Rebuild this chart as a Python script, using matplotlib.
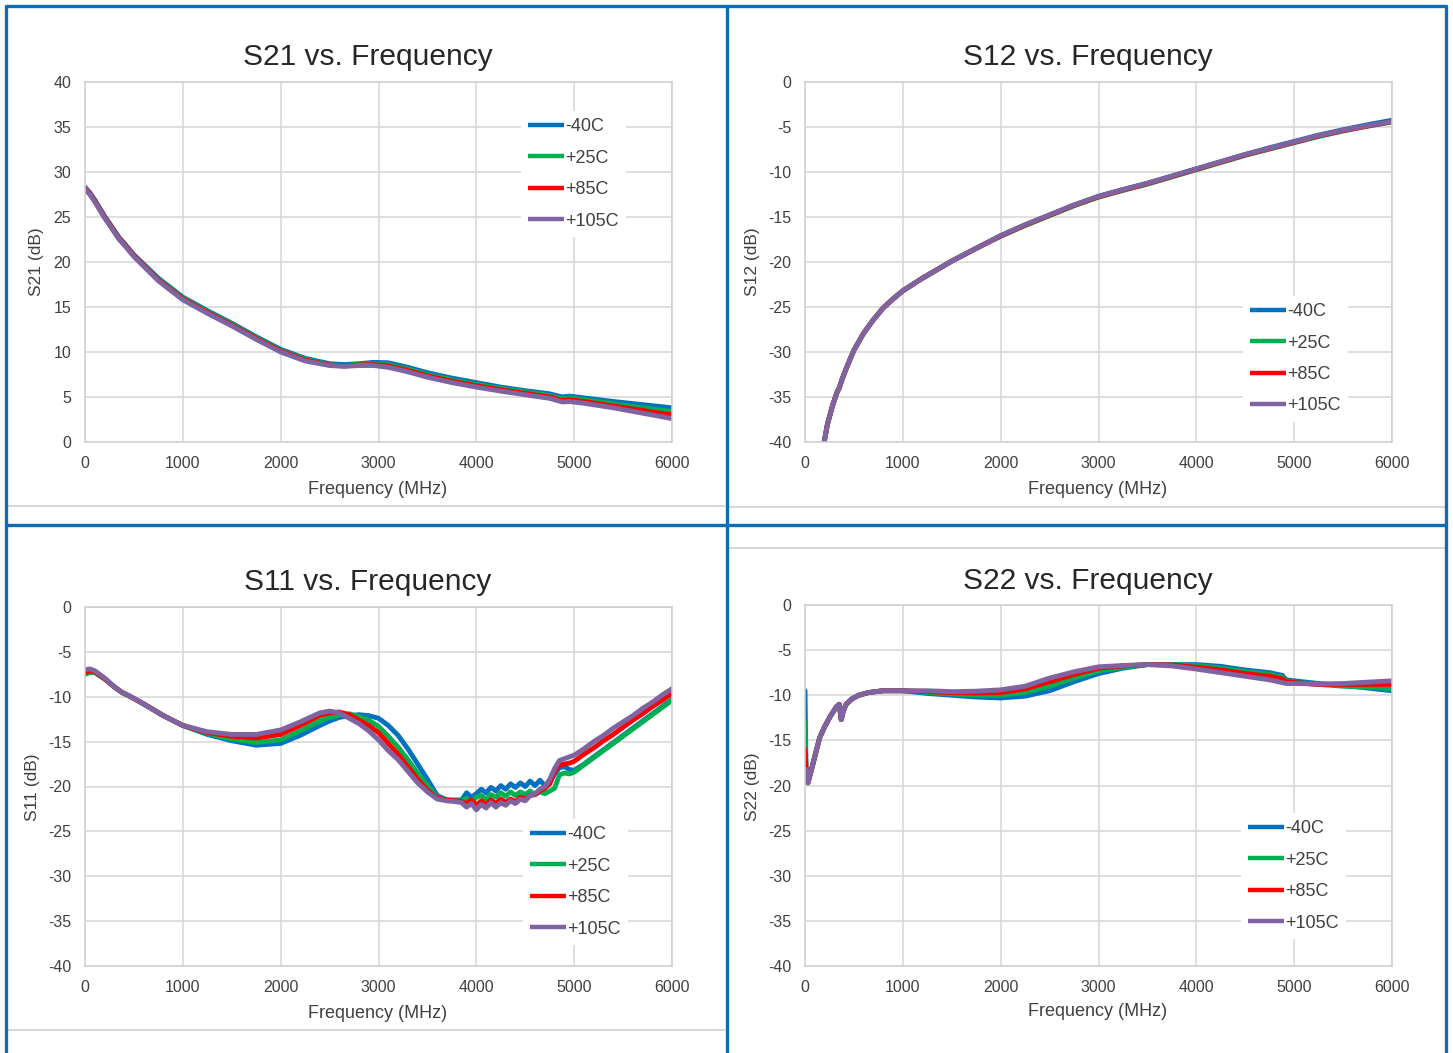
import matplotlib
matplotlib.use("Agg")
import matplotlib.pyplot as plt
from matplotlib.lines import Line2D

plt.rcParams['font.family'] = ['Liberation Sans', 'DejaVu Sans']
plt.rcParams['axes.unicode_minus'] = False

W, H = 1453, 1053

# ---------------- data ----------------
series_labels = ["-40C", "+25C", "+85C", "+105C"]
series_colors = ["#0070C0", "#00B050", "#FF0000", "#8064A2"]

x_ticks = [0, 1000, 2000, 3000, 4000, 5000, 6000]

# S21
s21_freq = [0, 50, 100, 200, 300, 350, 400, 500, 750, 1000, 1250, 1500, 1750, 2000, 2250,
            2500, 2650, 2800, 2950, 3100, 3300, 3500, 3750, 4000, 4250, 4500, 4750, 4880,
            4950, 5100, 5400, 5700, 6000]
s21_m40 = [28.3, 27.7, 26.9, 25.1, 23.5, 22.7, 22.1, 20.8, 18.2, 16.1, 14.6, 13.2, 11.7, 10.3,
           9.3, 8.7, 8.6, 8.7, 8.85, 8.8, 8.3, 7.7, 7.1, 6.6, 6.1, 5.7, 5.35, 5.0, 5.1, 4.9,
           4.5, 4.15, 3.8]
s21_p25 = [28.2, 27.6, 26.8, 25.0, 23.4, 22.6, 22.0, 20.7, 18.1, 16.0, 14.5, 13.1, 11.6, 10.2,
           9.2, 8.6, 8.5, 8.6, 8.7, 8.6, 8.1, 7.5, 6.9, 6.4, 5.95, 5.55, 5.15, 4.8, 4.9, 4.7,
           4.25, 3.8, 3.4]
s21_p85 = [28.2, 27.6, 26.8, 25.0, 23.4, 22.6, 22.0, 20.7, 18.0, 15.9, 14.4, 13.0, 11.5, 10.1,
           9.1, 8.55, 8.45, 8.55, 8.6, 8.45, 7.95, 7.35, 6.75, 6.25, 5.8, 5.4, 5.0, 4.6, 4.7,
           4.5, 4.0, 3.5, 3.0]
s21_p105 = [28.1, 27.5, 26.7, 24.9, 23.3, 22.5, 21.9, 20.6, 17.9, 15.8, 14.3, 12.9, 11.4, 10.0,
            9.0, 8.5, 8.4, 8.5, 8.5, 8.3, 7.8, 7.2, 6.6, 6.1, 5.65, 5.25, 4.85, 4.45, 4.5,
            4.3, 3.8, 3.2, 2.6]

# S12
s12_freq = [170, 230, 280, 330, 350, 380, 430, 500, 600, 700, 800, 900, 1000, 1200, 1500, 1800,
            2000, 2250, 2500, 2750, 3000, 3250, 3500, 3750, 4000, 4250, 4500, 4750, 5000,
            5250, 5500, 5750, 6000]
s12_m40 = [-41.5, -38.0, -36.0, -34.4, -34.0, -33.0, -31.6, -29.8, -27.9, -26.4, -25.1, -24.1,
           -23.2, -21.8, -19.9, -18.2, -17.1, -15.9, -14.8, -13.7, -12.7, -11.95, -11.25,
           -10.45, -9.65, -8.85, -8.05, -7.3, -6.6, -5.9, -5.3, -4.75, -4.25]
s12_p25 = [-41.5, -38.0, -36.0, -34.4, -34.0, -33.0, -31.6, -29.8, -27.9, -26.4, -25.1, -24.1,
           -23.2, -21.8, -19.9, -18.2, -17.15, -15.95, -14.85, -13.75, -12.8, -12.05, -11.35,
           -10.55, -9.75, -8.95, -8.15, -7.45, -6.75, -6.05, -5.45, -4.9, -4.45]
s12_p85 = [-41.5, -38.0, -36.0, -34.4, -34.0, -33.0, -31.6, -29.8, -27.9, -26.4, -25.1, -24.1,
           -23.2, -21.8, -19.9, -18.2, -17.1, -15.9, -14.8, -13.7, -12.75, -12.0, -11.3,
           -10.5, -9.7, -8.9, -8.1, -7.4, -6.7, -6.0, -5.4, -4.9, -4.4]
s12_p105 = [-41.5, -38.0, -36.0, -34.4, -34.0, -33.0, -31.6, -29.8, -27.9, -26.4, -25.1, -24.1,
            -23.2, -21.8, -19.9, -18.2, -17.05, -15.85, -14.75, -13.65, -12.7, -11.95, -11.25,
            -10.45, -9.65, -8.85, -8.05, -7.35, -6.65, -5.95, -5.35, -4.85, -4.4]

# S11
s11_freq = [0, 50, 100, 200, 300, 375, 450, 600, 800, 1000, 1250, 1500, 1750, 2000, 2200, 2400,
            2500, 2600, 2700, 2800, 2900, 3000, 3100, 3200, 3300, 3400, 3500, 3600, 3700, 3800,
            3850, 3900, 3950, 4000, 4050, 4100, 4150, 4200, 4250, 4300, 4350, 4400, 4450, 4500,
            4550, 4600, 4650, 4700, 4750, 4800, 4850, 4900, 4950, 5000, 5100, 5200, 5300, 5400,
            5500, 5600, 5700, 5800, 5900, 6000]
s11_m40 = [-7.4, -7.2, -7.3, -8.0, -8.9, -9.5, -9.9, -10.8, -12.1, -13.2, -14.2, -14.9, -15.4,
           -15.2, -14.3, -13.2, -12.7, -12.3, -12.1, -12.0, -12.1, -12.4, -13.2, -14.3, -15.8,
           -17.5, -19.2, -21.0, -21.5, -21.5, -21.5, -20.7, -21.2, -20.8, -20.3, -20.7, -20.1,
           -20.5, -19.9, -20.3, -19.7, -20.1, -19.6, -20.0, -19.4, -19.9, -19.3, -19.9, -19.6,
           -18.6, -17.9, -17.8, -18.1, -18.2, -17.5, -16.7, -15.9, -15.1, -14.3, -13.5, -12.7,
           -11.9, -11.1, -10.3]
s11_p25 = [-7.5, -7.3, -7.3, -8.0, -8.9, -9.5, -9.9, -10.8, -12.1, -13.2, -14.1, -14.7, -15.1,
           -14.8, -13.8, -12.7, -12.3, -12.0, -11.9, -12.2, -12.6, -13.3, -14.4, -15.6, -17.0,
           -18.5, -19.9, -21.2, -21.5, -21.6, -21.6, -21.3, -21.8, -21.2, -21.0, -21.4, -20.9,
           -21.2, -20.7, -21.1, -20.6, -21.0, -20.6, -20.9, -20.5, -20.9, -20.6, -20.8, -20.5,
           -20.2, -18.7, -18.5, -18.6, -18.4, -17.6, -16.8, -16.0, -15.2, -14.4, -13.6, -12.8,
           -12.0, -11.2, -10.4]
s11_p85 = [-7.3, -7.1, -7.2, -8.0, -8.9, -9.5, -9.9, -10.8, -12.1, -13.2, -14.0, -14.4, -14.6,
           -14.2, -13.2, -12.1, -11.8, -11.7, -12.0, -12.6, -13.2, -14.0, -15.2, -16.4, -17.8,
           -19.2, -20.4, -21.3, -21.5, -21.6, -21.7, -21.9, -21.5, -22.1, -21.6, -22.0, -21.5,
           -21.9, -21.4, -21.8, -21.4, -21.7, -21.2, -21.4, -21.0, -20.9, -20.5, -20.2, -19.7,
           -18.3, -17.6, -17.5, -17.4, -17.2, -16.4, -15.7, -14.9, -14.2, -13.4, -12.6, -11.9,
           -11.1, -10.4, -9.6]
s11_p105 = [-7.0, -6.9, -7.1, -7.9, -8.9, -9.5, -9.9, -10.8, -12.1, -13.2, -13.9, -14.2, -14.2,
            -13.7, -12.8, -11.8, -11.6, -11.8, -12.4, -13.0, -13.8, -14.8, -16.0, -17.0, -18.3,
            -19.6, -20.6, -21.4, -21.6, -21.7, -21.8, -22.3, -21.9, -22.6, -22.0, -22.4, -21.8,
            -22.3, -21.8, -22.1, -21.6, -21.9, -21.4, -21.6, -21.0, -20.8, -20.3, -20.0, -19.2,
            -18.0, -17.1, -16.9, -16.7, -16.5, -15.8, -15.0, -14.3, -13.5, -12.8, -12.1, -11.3,
            -10.6, -9.8, -9.1]

# S22
s22_freq = [0, 10, 30, 60, 100, 150, 200, 260, 320, 350, 370, 390, 420, 480, 550, 650, 800,
            1000, 1250, 1500, 1750, 2000, 2250, 2500, 2750, 3000, 3250, 3500, 3750, 4000, 4250,
            4500, 4750, 4880, 4920, 5000, 5250, 5500, 5750, 6000]
s22_m40 = [-9.5, -18.0, -19.7, -18.5, -16.8, -14.7, -13.5, -12.3, -11.3, -11.0, -12.7, -11.8,
           -11.0, -10.4, -10.0, -9.7, -9.5, -9.5, -9.8, -10.0, -10.2, -10.3, -10.1, -9.5, -8.5,
           -7.6, -7.0, -6.6, -6.6, -6.6, -6.8, -7.2, -7.5, -7.8, -8.3, -8.4, -8.7, -8.9, -9.2,
           -9.5]
s22_p25 = [-13.0, -18.0, -19.7, -18.5, -16.8, -14.7, -13.5, -12.3, -11.3, -11.0, -12.7, -11.8,
           -11.0, -10.4, -10.0, -9.7, -9.5, -9.5, -9.7, -9.85, -10.0, -10.0, -9.7, -9.0, -8.1,
           -7.3, -6.9, -6.6, -6.6, -6.7, -7.0, -7.4, -7.7, -8.0, -8.4, -8.6, -8.8, -9.0, -9.1,
           -9.3]
s22_p85 = [-16.0, -18.0, -19.7, -18.5, -16.8, -14.7, -13.5, -12.3, -11.3, -11.0, -12.7, -11.8,
           -11.0, -10.4, -10.0, -9.7, -9.5, -9.5, -9.6, -9.7, -9.75, -9.7, -9.3, -8.5, -7.7,
           -7.0, -6.75, -6.6, -6.65, -6.9, -7.2, -7.6, -7.9, -8.2, -8.5, -8.6, -8.8, -8.8, -8.8,
           -8.8]
s22_p105 = [-18.5, -18.2, -19.7, -18.5, -16.8, -14.7, -13.5, -12.3, -11.3, -11.0, -12.7, -11.8,
            -11.0, -10.4, -10.0, -9.7, -9.5, -9.5, -9.5, -9.6, -9.55, -9.4, -9.0, -8.1, -7.4,
            -6.85, -6.7, -6.6, -6.75, -7.1, -7.5, -7.9, -8.3, -8.6, -8.7, -8.7, -8.75, -8.7,
            -8.55, -8.4]

# ---------------- layout helpers ----------------
fig = plt.figure(figsize=(W / 100, H / 100), dpi=100)
fig.patch.set_facecolor("white")

TEXT = "#404040"
GRID = "#D6D6D6"
BORDER = "#0A6EB4"


def px_axes(l, t, r, b):
    return fig.add_axes([l / W, 1 - b / H, (r - l) / W, (b - t) / H])


def fig_line(x0, y0, x1, y1, color, lw):
    fig.add_artist(Line2D([x0 / W, x1 / W], [1 - y0 / H, 1 - y1 / H],
                          transform=fig.transFigure, color=color, lw=lw,
                          solid_capstyle="butt"))


def make_panel(box, title, title_xy, ylabel, ylabel_xy, xlabel_xy, ylim, yticks,
               freq, values, leg_xy):
    ax = px_axes(*box)
    for vals, lab, col in zip(values, series_labels, series_colors):
        ax.plot(freq, vals, color=col, lw=3.5, label=lab, solid_capstyle="round",
                solid_joinstyle="round")
    ax.set_xlim(0, 6000)
    ax.set_ylim(*ylim)
    ax.set_xticks(x_ticks)
    ax.set_yticks(yticks)
    ax.grid(True, color=GRID, lw=1.1)
    ax.set_axisbelow(True)
    for sp in ax.spines.values():
        sp.set_color("#CFCFCF")
        sp.set_linewidth(1.1)
    ax.tick_params(axis="both", length=0, labelsize=11.5, colors=TEXT)
    ax.tick_params(axis="y", pad=10)
    ax.tick_params(axis="x", pad=10)
    fig.text(title_xy[0] / W, 1 - title_xy[1] / H, title, ha="center", va="center",
             fontsize=21.5, color="#262626")
    fig.text(ylabel_xy[0] / W, 1 - ylabel_xy[1] / H, ylabel, ha="center", va="center",
             rotation=90, fontsize=12.5, color=TEXT)
    fig.text(xlabel_xy[0] / W, 1 - xlabel_xy[1] / H, "Frequency (MHz)", ha="center",
             va="center", fontsize=13, color=TEXT)
    fs = 13
    fpx = fs * 100 / 72
    pad = 0.4
    x0 = leg_xy[0] - pad * fpx
    y0 = leg_xy[1] - 0.6 * fpx - pad * fpx + 5
    leg = ax.legend(loc="upper left", bbox_to_anchor=(x0 / W, 1 - y0 / H),
                    bbox_transform=fig.transFigure, frameon=True, fontsize=fs,
                    handlelength=2.0, handletextpad=0.08, labelspacing=0.8,
                    borderpad=pad, borderaxespad=0, fancybox=False)
    leg.get_frame().set_facecolor("white")
    leg.get_frame().set_edgecolor("none")
    leg.get_frame().set_alpha(1.0)
    for t in leg.get_texts():
        t.set_color(TEXT)
    for h in leg.get_lines():
        h.set_linewidth(3.2)
        h.set_solid_capstyle("butt")
    return ax


make_panel((85, 82, 672, 442), "S21 vs. Frequency", (368, 57), "S21 (dB)", (36, 262),
           (378, 489), (0, 40), [0, 5, 10, 15, 20, 25, 30, 35, 40], s21_freq,
           [s21_m40, s21_p25, s21_p85, s21_p105], (528, 124))
make_panel((805, 82, 1392, 442), "S12 vs. Frequency", (1088, 57), "S12 (dB)", (752, 262),
           (1098, 490), (-40, 0), [-40, -35, -30, -25, -20, -15, -10, -5, 0], s12_freq,
           [s12_m40, s12_p25, s12_p85, s12_p105], (1250, 309))
make_panel((85, 607, 672, 966), "S11 vs. Frequency", (368, 582), "S11 (dB)", (32, 787),
           (378, 1013), (-40, 0), [-40, -35, -30, -25, -20, -15, -10, -5, 0], s11_freq,
           [s11_m40, s11_p25, s11_p85, s11_p105], (530, 832))
make_panel((805, 605, 1392, 966), "S22 vs. Frequency", (1088, 581), "S22 (dB)", (752, 787),
           (1098, 1012), (-40, 0), [-40, -35, -30, -25, -20, -15, -10, -5, 0], s22_freq,
           [s22_m40, s22_p25, s22_p85, s22_p105], (1248, 826))

# chart-area separators (grey) and panel borders (blue)
fig_line(8, 506, 725, 506, "#D0D0D0", 1.2)
fig_line(728, 507, 1445, 507, "#D0D0D0", 1.2)
fig_line(728, 548, 1445, 548, "#D0D0D0", 1.2)
fig_line(8, 1030, 725, 1030, "#D0D0D0", 1.2)

fig_line(5, 6, 1447, 6, BORDER, 2.4)
fig_line(6, 5, 6, 1053, BORDER, 2.4)
fig_line(1446, 5, 1446, 1053, BORDER, 2.4)
fig_line(726.5, 5, 726.5, 1053, BORDER, 2.4)
fig_line(5, 525, 1447, 525, BORDER, 2.4)

fig.savefig("out.png", dpi=100, facecolor="white")
